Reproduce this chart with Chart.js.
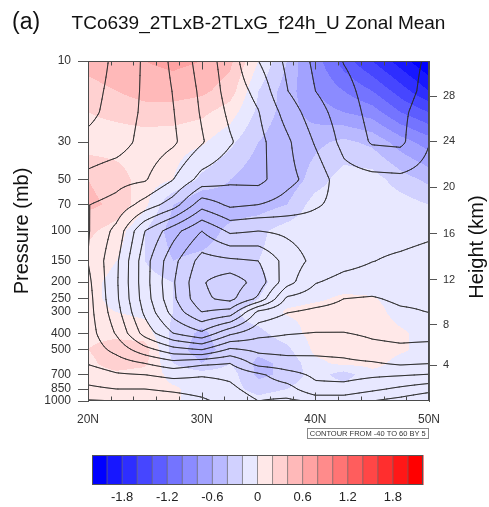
<!DOCTYPE html>
<html>
<head>
<meta charset="utf-8">
<script src="https://cdn.jsdelivr.net/npm/chart.js@4.4.1/dist/chart.umd.min.js"></script>
<style>
  html, body { margin: 0; padding: 0; background: #fff; }
  #uz { display: block; }
</style>
</head>
<body>
<canvas id="uz" width="489" height="507" style="width:489px;height:507px"></canvas>
<script>
// grid of the zonal-mean cross section
const lats = [20, 22.5, 25, 27.5, 30, 32.5, 35, 37.5, 40, 42.5, 45, 47.5, 50];
const levels = [10, 15, 20, 30, 50, 70, 100, 150, 200, 250, 300, 400, 500, 600, 700, 850, 925, 1000];

// U (m/s), one row per pressure level, drawn as contour lines
const uMean = [
  [-8, -3.8, 0.7, 6, 12, 17.6, 25, 31, 36, 40.2, 42.5, 42, 39.3],
  [-6.8, -3.5, 0.8, 5.2, 11, 17, 21.5, 29.8, 35, 38.5, 42, 42, 38.5],
  [-6.2, -3.2, 1.0, 4.8, 10.5, 16, 19.8, 27, 33, 37.5, 41.5, 41, 37.5],
  [-3.8, -2.5, 1.8, 4.2, 9.5, 14.5, 18.5, 24, 30.5, 36.5, 40.5, 41, 35.2],
  [1.5, 3.5, 4.5, 10, 17, 19, 18.5, 23.5, 27, 33, 33.5, 33.8, 33],
  [4.9, 6.5, 12, 17.5, 28, 24, 25, 27, 29.5, 31.5, 32, 32.5, 32],
  [4.6, 11.5, 25, 33, 40, 34, 35, 34, 32.5, 31.5, 31.5, 31.5, 30.8],
  [5.1, 14, 28, 38.5, 47, 46, 45, 38, 33.5, 31.5, 30.1, 29.3, 28.5],
  [3.8, 14.3, 28, 39.5, 49.5, 53, 48, 37, 30.3, 28.5, 28, 27.8, 27],
  [3.2, 14, 27.5, 39, 49, 51.5, 44, 29, 27, 25, 24.5, 26, 26],
  [3.0, 13, 26, 37, 45, 43, 28.5, 25.2, 24, 23.5, 22.5, 24.2, 25.1],
  [2.6, 10.5, 22, 30, 34, 26, 21.5, 20.3, 19.8, 19.8, 20.8, 21.5, 21.5],
  [1.8, 6.5, 13, 18, 20, 14, 16, 16.5, 16.2, 16.5, 18.5, 19, 18.5],
  [0.3, 2.5, 5, 8, 6, 5, 12, 13, 13.5, 14, 14.5, 15.8, 15.2],
  [-2.5, -0.5, 0, 1.5, 0.5, 1, 4, 8, 11, 12, 11, 10.5, 9.8],
  [-6, -5, -5, -4, -3, -1, 2, 3, 8.5, 8, 6, 4, 2],
  [-8, -7.5, -7, -6, -4.5, -2, 1, 1, 5, 5, 3, 1, -1.5],
  [-10.5, -10, -9.5, -8, -6, -3, 0, -1, 0.5, 2, 0, -2, -5]
];

// U difference 2TLxB - 2TLxG (m/s), one row per pressure level, shaded
const uDiff = [
  [0.45, 0.5, 0.6, 0.65, 0.6, 0.45, 0.0, -0.4, -0.9, -1.3, -1.6, -1.9, -2.2],
  [0.35, 0.4, 0.5, 0.5, 0.45, 0.3, -0.2, -0.5, -0.8, -1.0, -1.2, -1.5, -1.8],
  [0.2, 0.25, 0.3, 0.3, 0.25, 0.1, -0.25, -0.5, -0.7, -0.8, -0.9, -1.2, -1.4],
  [0.1, 0.1, 0.1, 0.08, 0.03, -0.15, -0.4, -0.55, -0.45, -0.35, -0.45, -0.7, -0.9],
  [0.4, 0.3, 0.1, 0.0, -0.25, -0.4, -0.55, -0.55, -0.3, -0.1, -0.1, -0.3, -0.45],
  [0.45, 0.35, 0.05, -0.4, -0.6, -0.5, -0.5, -0.4, -0.1, -0.05, -0.05, -0.1, -0.2],
  [0.25, 0.1, -0.2, -0.5, -0.5, -0.35, -0.25, -0.1, -0.05, -0.05, -0.05, -0.1, -0.1],
  [0.1, 0.0, -0.2, -0.4, -0.35, -0.3, -0.2, -0.1, -0.05, -0.05, -0.05, -0.05, -0.05],
  [0.05, -0.05, -0.1, -0.2, -0.25, -0.35, -0.25, -0.1, -0.05, -0.05, -0.05, -0.05, -0.05],
  [0.05, -0.05, -0.1, -0.2, -0.25, -0.35, -0.2, -0.05, -0.02, 0.02, 0.01, -0.05, -0.05],
  [0.05, 0.0, -0.05, -0.2, -0.25, -0.25, -0.1, 0.02, 0.05, 0.06, 0.05, -0.05, -0.05],
  [0.15, 0.15, 0.1, -0.25, -0.45, -0.25, -0.25, -0.1, 0.08, 0.1, 0.08, 0.02, -0.05],
  [0.2, 0.3, 0.3, -0.3, -0.5, -0.3, -0.35, -0.25, 0.05, 0.1, 0.08, 0.02, -0.05],
  [0.15, 0.3, 0.25, -0.2, -0.4, -0.2, -0.45, -0.35, -0.05, 0.05, 0.05, -0.05, -0.05],
  [0.1, 0.15, 0.1, -0.05, -0.1, -0.1, -0.45, -0.35, -0.1, -0.3, -0.05, -0.05, -0.05],
  [0.1, 0.1, 0.05, 0.02, -0.05, -0.1, -0.3, -0.2, -0.05, -0.1, -0.05, -0.05, -0.05],
  [0.1, 0.1, 0.05, 0.02, -0.05, -0.05, -0.2, -0.1, -0.05, -0.05, -0.05, -0.05, -0.05],
  [0.1, 0.1, 0.05, 0.02, -0.05, -0.05, -0.1, -0.05, -0.05, -0.05, -0.05, -0.05, -0.05]
];

const pressureTicks = [10, 30, 50, 70, 100, 150, 200, 250, 300, 400, 500, 700, 850, 1000];
const heightKm = [4, 8, 12, 16, 20, 24, 28];
const heightPres = [616.6, 356.5, 194.0, 103.5, 55.29, 29.72, 16.16];
const latTicks = [20, 30, 40, 50];
const latMinor = [22, 24, 26, 28, 32, 34, 36, 38, 42, 44, 46, 48];

const shadeLevels = [-2.0, -1.8, -1.6, -1.4, -1.2, -1.0, -0.8, -0.6, -0.4, -0.2, 0,
                     0.2, 0.4, 0.6, 0.8, 1.0, 1.2, 1.4, 1.6, 1.8, 2.0];
const shadeColors = ['#0000ff', '#1717ff', '#2e2eff', '#4646ff', '#5d5dff', '#7474ff', '#8b8bff',
                     '#a2a2ff', '#b9b9ff', '#d1d1ff', '#e8e8ff', '#ffe8e8', '#ffd1d1', '#ffb9b9',
                     '#ffa2a2', '#ff8b8b', '#ff7474', '#ff5d5d', '#ff4646', '#ff2e2e', '#ff1717', '#ff0000'];
const barLabels = [-1.8, -1.2, -0.6, 0, 0.6, 1.2, 1.8];
const contourLevels = [-40, -35, -30, -25, -20, -15, -10, -5, 0, 5, 10, 15, 20,
                       25, 30, 35, 40, 45, 50, 55, 60];

const FONT = "'Liberation Sans', Arial, Helvetica, sans-serif";
Chart.defaults.font.family = FONT;

// fractional grid index for a latitude / a pressure (log-p)
function colPos(lat) {
  for (let k = 0; k < lats.length - 1; k++) {
    if (lat <= lats[k + 1]) return k + Math.max(0, (lat - lats[k]) / (lats[k + 1] - lats[k]));
  }
  return lats.length - 1;
}
function rowPos(p) {
  const lp = Math.log(p);
  for (let k = 0; k < levels.length - 1; k++) {
    if (p <= levels[k + 1]) {
      const a = Math.log(levels[k]), b = Math.log(levels[k + 1]);
      return k + Math.min(1, Math.max(0, (lp - a) / (b - a)));
    }
  }
  return levels.length - 1;
}
function sample(grid, fc, fr) {
  const c0 = Math.min(Math.floor(fc), lats.length - 2);
  const r0 = Math.min(Math.floor(fr), levels.length - 2);
  const tc = fc - c0, tr = fr - r0;
  const top = grid[r0][c0] * (1 - tc) + grid[r0][c0 + 1] * tc;
  const bot = grid[r0 + 1][c0] * (1 - tc) + grid[r0 + 1][c0 + 1] * tc;
  return top * (1 - tr) + bot * tr;
}

const fieldPlugin = {
  id: 'zonalField',
  beforeDatasetsDraw(chart) {
    const { ctx, chartArea: a, scales } = chart;
    const xs = scales.x, ys = scales.y;
    const L = Math.round(a.left), T = Math.round(a.top);
    const W = Math.round(a.right) - L, H = Math.round(a.bottom) - T;

    // shaded difference
    const rgb = shadeColors.map(h => [parseInt(h.slice(1, 3), 16), parseInt(h.slice(3, 5), 16), parseInt(h.slice(5, 7), 16)]);
    const fc = [], fr = [];
    for (let i = 0; i < W; i++) fc.push(colPos(xs.getValueForPixel(L + i + 0.5)));
    for (let j = 0; j < H; j++) fr.push(rowPos(ys.getValueForPixel(T + j + 0.5)));
    const img = ctx.createImageData(W, H);
    for (let j = 0; j < H; j++) {
      for (let i = 0; i < W; i++) {
        const v = sample(uDiff, fc[i], fr[j]);
        let b = 0;
        while (b < shadeLevels.length && v >= shadeLevels[b]) b++;
        const c = rgb[b], o = (j * W + i) * 4;
        img.data[o] = c[0]; img.data[o + 1] = c[1]; img.data[o + 2] = c[2]; img.data[o + 3] = 255;
      }
    }
    ctx.putImageData(img, L, T);

    // contour lines of U (marching squares on a 2px grid)
    const step = 2;
    const gx = [], gy = [];
    for (let px = L; px < L + W; px += step) gx.push(px);
    gx.push(L + W);
    for (let py = T; py < T + H; py += step) gy.push(py);
    gy.push(T + H);
    const cx = gx.map(px => colPos(xs.getValueForPixel(px)));
    const cy = gy.map(py => rowPos(ys.getValueForPixel(py)));
    const nx = gx.length, ny = gy.length;
    const V = new Float64Array(nx * ny);
    for (let j = 0; j < ny; j++) for (let i = 0; i < nx; i++) V[j * nx + i] = sample(uMean, cx[i], cy[j]);

    ctx.save();
    ctx.beginPath();
    ctx.rect(L, T, W, H);
    ctx.clip();
    ctx.strokeStyle = '#2a2a2a';
    ctx.lineWidth = 0.95;
    ctx.lineCap = 'round';
    ctx.lineJoin = 'round';
    const seg = (p, q) => { ctx.moveTo(p[0], p[1]); ctx.lineTo(q[0], q[1]); };
    for (const lev of contourLevels) {
      ctx.beginPath();
      for (let j = 0; j < ny - 1; j++) {
        for (let i = 0; i < nx - 1; i++) {
          const v0 = V[j * nx + i] - lev + 1e-7, v1 = V[j * nx + i + 1] - lev + 1e-7;
          const v2 = V[(j + 1) * nx + i + 1] - lev + 1e-7, v3 = V[(j + 1) * nx + i] - lev + 1e-7;
          const s0 = v0 > 0, s1 = v1 > 0, s2 = v2 > 0, s3 = v3 > 0;
          if (s0 === s1 && s1 === s2 && s2 === s3) continue;
          const x0 = gx[i], x1 = gx[i + 1], y0 = gy[j], y1 = gy[j + 1];
          const p = [];
          if (s0 !== s1) p.push([x0 + (x1 - x0) * v0 / (v0 - v1), y0]);
          if (s1 !== s2) p.push([x1, y0 + (y1 - y0) * v1 / (v1 - v2)]);
          if (s2 !== s3) p.push([x1 + (x0 - x1) * v2 / (v2 - v3), y1]);
          if (s3 !== s0) p.push([x0, y1 + (y0 - y1) * v3 / (v3 - v0)]);
          if (p.length === 2) seg(p[0], p[1]);
          else if (p.length === 4) {
            const mid = (v0 + v1 + v2 + v3) / 4 > 0;
            if (mid === s0) { seg(p[0], p[1]); seg(p[2], p[3]); }
            else { seg(p[3], p[0]); seg(p[1], p[2]); }
          }
        }
      }
      ctx.stroke();
    }
    ctx.restore();
  }
};

const framePlugin = {
  id: 'frame',
  afterDraw(chart) {
    const { ctx, chartArea: a, scales: { x } } = chart;
    const L = Math.round(a.left) + 0.5, R = Math.round(a.right) - 0.5;
    const T = Math.round(a.top) + 0.5, B = Math.round(a.bottom) - 0.5;
    ctx.save();
    ctx.strokeStyle = '#4a4a4a';
    ctx.lineWidth = 1;
    ctx.strokeRect(L, T, R - L, B - T);

    // inward latitude ticks, bottom and top
    ctx.beginPath();
    latTicks.forEach(v => {
      const px = Math.round(x.getPixelForValue(v)) + 0.5;
      ctx.moveTo(px, B); ctx.lineTo(px, B - 8);
      ctx.moveTo(px, T); ctx.lineTo(px, T + 8);
    });
    latMinor.forEach(v => {
      const px = Math.round(x.getPixelForValue(v)) + 0.5;
      ctx.moveTo(px, B); ctx.lineTo(px, B - 4);
      ctx.moveTo(px, T); ctx.lineTo(px, T + 4);
    });
    ctx.stroke();

    // titles
    ctx.fillStyle = '#111';
    ctx.textBaseline = 'alphabetic';
    ctx.font = '23px ' + FONT;
    ctx.textAlign = 'left';
    ctx.fillText('(a)', 12, 29);
    ctx.font = '19px ' + FONT;
    ctx.textAlign = 'center';
    ctx.fillText('TCo639_2TLxB-2TLxG_f24h_U Zonal Mean', (a.left + a.right) / 2, 29);

    ctx.save();
    ctx.translate(477, (a.top + a.bottom) / 2 + 16);
    ctx.rotate(-Math.PI / 2);
    ctx.font = '20px ' + FONT;
    ctx.textBaseline = 'middle';
    ctx.fillText('Height (km)', 0, 0);
    ctx.restore();

    // contour info box
    const info = 'CONTOUR FROM ' + contourLevels[0] + ' TO ' + contourLevels[contourLevels.length - 1] +
                 ' BY ' + (contourLevels[1] - contourLevels[0]);
    ctx.font = '7.5px ' + FONT;
    const tw = ctx.measureText(info).width;
    const bx1 = Math.round(a.right) - 0.5, bx0 = Math.round(bx1 - tw - 6);
    ctx.strokeStyle = '#888';
    ctx.strokeRect(bx0 + 0.5, 428.5, bx1 - bx0 - 0.5, 10);
    ctx.fillStyle = '#333';
    ctx.textAlign = 'center';
    ctx.textBaseline = 'middle';
    ctx.fillText(info, (bx0 + bx1) / 2, 434);

    // colour bar
    const barL = Math.round(a.left) + 4, barR = Math.round(a.right) - 6;
    const barT = 455, barB = 485;
    const bw = (barR - barL) / shadeColors.length;
    shadeColors.forEach((c, i) => {
      ctx.fillStyle = c;
      ctx.fillRect(barL + i * bw, barT, bw + 0.5, barB - barT);
    });
    ctx.strokeStyle = '#666';
    ctx.lineWidth = 0.7;
    ctx.beginPath();
    for (let i = 1; i < shadeColors.length; i++) {
      ctx.moveTo(barL + i * bw, barT); ctx.lineTo(barL + i * bw, barB);
    }
    ctx.stroke();
    ctx.lineWidth = 1;
    ctx.strokeStyle = '#555';
    ctx.strokeRect(barL + 0.5, barT + 0.5, barR - barL - 1, barB - barT - 1);

    ctx.fillStyle = '#222';
    ctx.font = '13px ' + FONT;
    ctx.textAlign = 'center';
    ctx.textBaseline = 'middle';
    barLabels.forEach(v => {
      const k = shadeLevels.findIndex(s => Math.abs(s - v) < 1e-9);
      const px = barL + (k + 1) * bw;
      ctx.fillText(v === 0 ? '0' : v.toFixed(1), px, 497);
    });
    ctx.restore();
  }
};

new Chart(document.getElementById('uz'), {
  type: 'scatter',
  data: { datasets: [] },
  options: {
    responsive: false,
    animation: false,
    devicePixelRatio: 1,
    layout: { padding: { top: 61, left: 0, right: 0, bottom: 0 } },
    plugins: { legend: { display: false }, tooltip: { enabled: false }, title: { display: false } },
    scales: {
      x: {
        type: 'linear',
        display: true,
        position: 'bottom',
        min: 20,
        max: 50,
        afterBuildTicks: s => { s.ticks = latTicks.map(v => ({ value: v })); },
        afterFit: s => { s.height = 106; },
        ticks: { callback: v => v + 'N', font: { size: 12 }, color: '#333', padding: 11, maxRotation: 0, autoSkip: false },
        grid: { display: false, drawTicks: false },
        border: { display: false }
      },
      y: {
        type: 'logarithmic',
        display: true,
        position: 'left',
        reverse: true,
        min: 10,
        max: 1000,
        afterBuildTicks: s => { s.ticks = pressureTicks.map(v => ({ value: v })); },
        afterFit: s => { s.width = 88; },
        ticks: { callback: v => String(v), font: { size: 12 }, color: '#333', padding: 7, autoSkip: false },
        grid: { drawOnChartArea: false, drawTicks: true, tickLength: 10, color: '#555' },
        border: { display: true, color: '#555' },
        title: { display: true, text: 'Pressure (mb)', font: { size: 20 }, color: '#111', padding: { top: 10, bottom: 0 } }
      },
      h: {
        type: 'logarithmic',
        axis: 'y',
        display: true,
        position: 'right',
        reverse: true,
        min: 10,
        max: 1000,
        afterBuildTicks: s => { s.ticks = heightPres.map(v => ({ value: v })); },
        afterFit: s => { s.width = 60; },
        ticks: { callback: (v, i) => String(heightKm[i]), font: { size: 11 }, color: '#333', padding: 6, autoSkip: false },
        grid: { drawOnChartArea: false, drawTicks: true, tickLength: 8, color: '#555' },
        border: { display: true, color: '#555' }
      }
    }
  },
  plugins: [fieldPlugin, framePlugin]
});
</script>
</body>
</html>
